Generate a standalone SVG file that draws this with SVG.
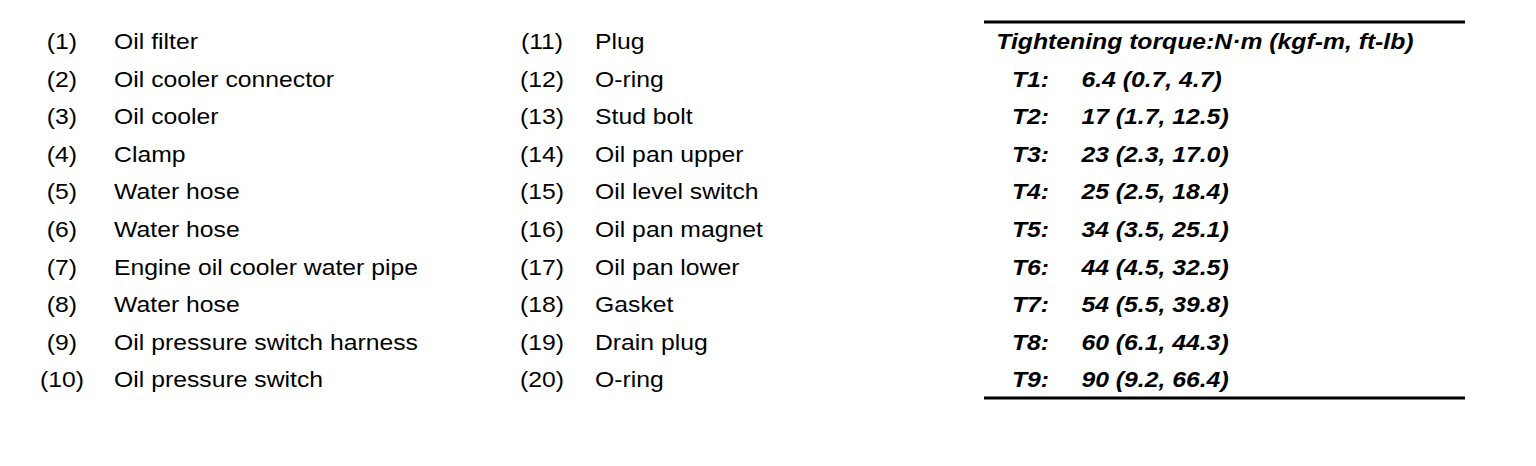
<svg xmlns="http://www.w3.org/2000/svg" width="1536" height="466" viewBox="0 0 1536 466">
<style>
text{font-family:"Liberation Sans",Arial,Helvetica,sans-serif;font-size:22px;fill:#000}
.n{text-anchor:middle}
.b{font-weight:bold;font-style:italic}
.rule{stroke:#000;stroke-width:3;fill:none}
</style>
<rect width="1536" height="466" fill="#fff"/>
<g id="rules">
<line class="rule" x1="984" y1="22" x2="1465" y2="22"/>
<line class="rule" x1="984" y1="398" x2="1465" y2="398"/>
</g>
<g id="parts-left" transform="scale(1.125,1)">
<text class="n" x="55.1" y="49">(1)</text><text x="101.4" y="49">Oil filter</text>
<text class="n" x="55.1" y="86.6">(2)</text><text x="101.4" y="86.6">Oil cooler connector</text>
<text class="n" x="55.1" y="124.2">(3)</text><text x="101.4" y="124.2">Oil cooler</text>
<text class="n" x="55.1" y="161.8">(4)</text><text x="101.4" y="161.8">Clamp</text>
<text class="n" x="55.1" y="199.4">(5)</text><text x="101.4" y="199.4">Water hose</text>
<text class="n" x="55.1" y="237">(6)</text><text x="101.4" y="237">Water hose</text>
<text class="n" x="55.1" y="274.6">(7)</text><text x="101.4" y="274.6">Engine oil cooler water pipe</text>
<text class="n" x="55.1" y="312.2">(8)</text><text x="101.4" y="312.2">Water hose</text>
<text class="n" x="55.1" y="349.8">(9)</text><text x="101.4" y="349.8">Oil pressure switch harness</text>
<text class="n" x="55.1" y="387.4">(10)</text><text x="101.4" y="387.4">Oil pressure switch</text>
</g>
<g id="parts-right" transform="scale(1.125,1)">
<text class="n" x="481.8" y="49">(11)</text><text x="528.9" y="49">Plug</text>
<text class="n" x="481.8" y="86.6">(12)</text><text x="528.9" y="86.6">O-ring</text>
<text class="n" x="481.8" y="124.2">(13)</text><text x="528.9" y="124.2">Stud bolt</text>
<text class="n" x="481.8" y="161.8">(14)</text><text x="528.9" y="161.8">Oil pan upper</text>
<text class="n" x="481.8" y="199.4">(15)</text><text x="528.9" y="199.4">Oil level switch</text>
<text class="n" x="481.8" y="237">(16)</text><text x="528.9" y="237">Oil pan magnet</text>
<text class="n" x="481.8" y="274.6">(17)</text><text x="528.9" y="274.6">Oil pan lower</text>
<text class="n" x="481.8" y="312.2">(18)</text><text x="528.9" y="312.2">Gasket</text>
<text class="n" x="481.8" y="349.8">(19)</text><text x="528.9" y="349.8">Drain plug</text>
<text class="n" x="481.8" y="387.4">(20)</text><text x="528.9" y="387.4">O-ring</text>
</g>
<g id="torque" transform="scale(1.125,1)">
<text class="b" x="885.6" y="49">Tightening torque:N·m (kgf-m, ft-lb)</text>
<text class="b" x="899.5" y="86.6">T1:</text><text class="b" x="961.3" y="86.6">6.4 (0.7, 4.7)</text>
<text class="b" x="899.5" y="124.2">T2:</text><text class="b" x="961.3" y="124.2">17 (1.7, 12.5)</text>
<text class="b" x="899.5" y="161.8">T3:</text><text class="b" x="961.3" y="161.8">23 (2.3, 17.0)</text>
<text class="b" x="899.5" y="199.4">T4:</text><text class="b" x="961.3" y="199.4">25 (2.5, 18.4)</text>
<text class="b" x="899.5" y="237">T5:</text><text class="b" x="961.3" y="237">34 (3.5, 25.1)</text>
<text class="b" x="899.5" y="274.6">T6:</text><text class="b" x="961.3" y="274.6">44 (4.5, 32.5)</text>
<text class="b" x="899.5" y="312.2">T7:</text><text class="b" x="961.3" y="312.2">54 (5.5, 39.8)</text>
<text class="b" x="899.5" y="349.8">T8:</text><text class="b" x="961.3" y="349.8">60 (6.1, 44.3)</text>
<text class="b" x="899.5" y="387.4">T9:</text><text class="b" x="961.3" y="387.4">90 (9.2, 66.4)</text>
</g>
</svg>
